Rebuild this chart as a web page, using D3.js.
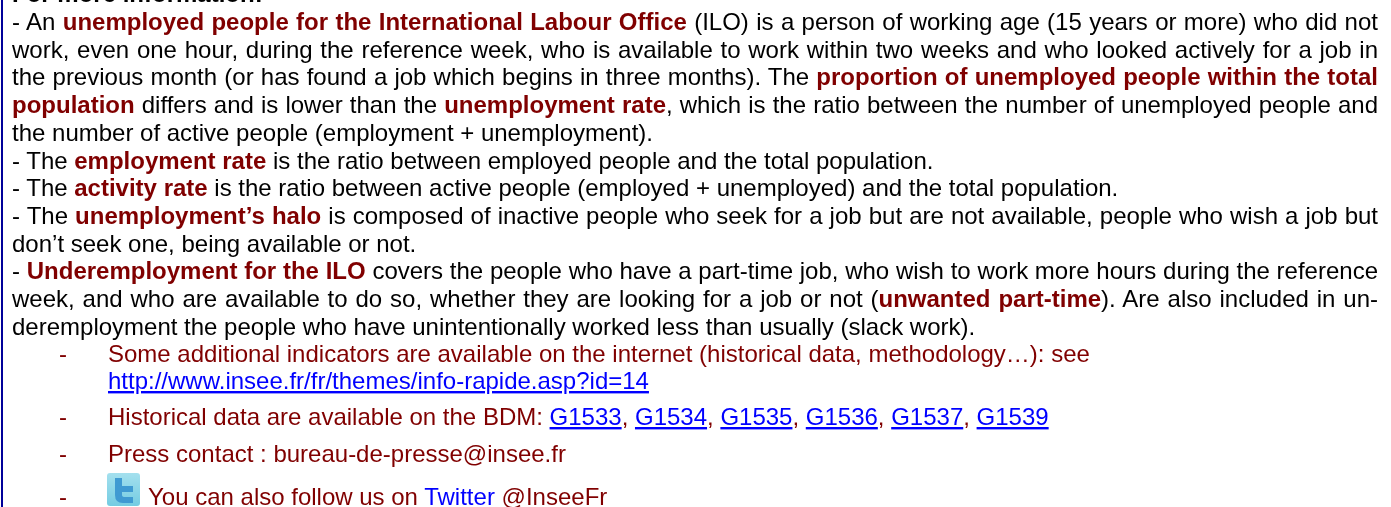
<!DOCTYPE html>
<html>
<head>
<meta charset="utf-8">
<script src="https://cdn.jsdelivr.net/npm/d3@7"></script>
<style>
  html, body { margin: 0; padding: 0; background: #fff; }
  svg { display: block; }
  text { font-family: "Liberation Sans", Arial, sans-serif; font-size: 24px; white-space: pre; }
  .page-text { filter: blur(0.35px); }
</style>
</head>
<body>
<svg id="page"></svg>
<script>
const width = 1391;
const height = 507;

// r = red bold, k = plain black, b = black bold, d = dark red, l = link, t = blue no underline
const bodyLines = [
  { baseline: 2, runs: [['b', 'For more information:']] },
  { baseline: 30, justify: true, runs: [['k', '- An '], ['r', 'unemployed people for the International Labour Office'], ['k', ' (ILO) is a person of working age (15 years or more) who did not']] },
  { baseline: 57.7, justify: true, runs: [['k', 'work, even one hour, during the reference week, who is available to work within two weeks and who looked actively for a job in']] },
  { baseline: 85.4, justify: true, runs: [['k', 'the previous month (or has found a job which begins in three months). The '], ['r', 'proportion of unemployed people within the total']] },
  { baseline: 113, justify: true, runs: [['r', 'population'], ['k', ' differs and is lower than the '], ['r', 'unemployment rate'], ['k', ', which is the ratio between the number of unemployed people and']] },
  { baseline: 141, runs: [['k', 'the number of active people (employment + unemployment).']] },
  { baseline: 168.5, runs: [['k', '- The '], ['r', 'employment rate'], ['k', ' is the ratio between employed people and the total population.']] },
  { baseline: 196, runs: [['k', '- The '], ['r', 'activity rate'], ['k', ' is the ratio between active people (employed + unemployed) and the total population.']] },
  { baseline: 224, justify: true, runs: [['k', '- The '], ['r', 'unemployment’s halo'], ['k', ' is composed of inactive people who seek for a job but are not available, people who wish a job but']] },
  { baseline: 251.6, runs: [['k', 'don’t seek one, being available or not.']] },
  { baseline: 279.3, justify: true, runs: [['k', '- '], ['r', 'Underemployment for the ILO'], ['k', ' covers the people who have a part-time job, who wish to work more hours during the reference']] },
  { baseline: 307, justify: true, runs: [['k', 'week, and who are available to do so, whether they are looking for a job or not ('], ['r', 'unwanted part-time'], ['k', '). Are also included in un-']] },
  { baseline: 334.5, runs: [['k', 'deremployment the people who have unintentionally worked less than usually (slack work).']] }
];

const listLines = [
  { baseline: 362, dash: true, runs: [['d', 'Some additional indicators are available on the internet (historical data, methodology…): see']] },
  { baseline: 389, runs: [['l', 'http://www.insee.fr/fr/themes/info-rapide.asp?id=14']] },
  { baseline: 425, dash: true, runs: [['d', 'Historical data are available on the BDM: '], ['l', 'G1533'], ['d', ', '], ['l', 'G1534'], ['d', ', '], ['l', 'G1535'], ['d', ', '], ['l', 'G1536'], ['d', ', '], ['l', 'G1537'], ['d', ', '], ['l', 'G1539']] },
  { baseline: 461.5, dash: true, runs: [['d', 'Press contact : bureau-de-presse@insee.fr']] },
  { baseline: 505, dash: true, icon: true, runs: [['d', 'You can also follow us on '], ['t', 'Twitter'], ['d', ' @InseeFr']] }
];

const runStyle = {
  k: { fill: '#000', weight: 'normal' },
  b: { fill: '#000', weight: 'bold' },
  r: { fill: '#800000', weight: 'bold' },
  d: { fill: '#800000', weight: 'normal' },
  l: { fill: '#0000ff', weight: 'normal', underline: true },
  t: { fill: '#0000ff', weight: 'normal' }
};

const textLeft = 12;
const textRight = 1378;
const listDash = 59;
const listLeft = 108;
const iconSize = 33;

const svg = d3.select('#page').attr('width', width).attr('height', height);

svg.append('rect').attr('width', width).attr('height', height).attr('fill', '#fff');
svg.append('rect').attr('x', 1).attr('y', 0).attr('width', 2).attr('height', height).attr('fill', '#000099');

function drawLine(parent, line, x) {
  const text = parent.append('text').attr('x', x).attr('y', line.baseline);
  line.runs.forEach(([kind, str]) => {
    const style = runStyle[kind];
    text.append('tspan')
      .attr('fill', style.fill)
      .attr('font-weight', style.weight)
      .attr('text-decoration', style.underline ? 'underline' : null)
      .text(str);
  });
  if (line.justify) {
    const spaces = line.runs.map(r => r[1]).join('').split(' ').length - 1;
    const extra = (textRight - x - text.node().getComputedTextLength()) / spaces;
    text.attr('word-spacing', extra);
  }
  return text;
}

const g = svg.append('g').attr('class', 'page-text');
bodyLines.forEach(line => drawLine(g, line, textLeft));

listLines.forEach(line => {
  let x = listLeft;
  if (line.dash) {
    g.append('text').attr('x', listDash).attr('y', line.baseline).attr('fill', '#800000').text('-');
  }
  if (line.icon) {
    const top = line.baseline - 32;
    const icon = g.append('g').attr('transform', `translate(${listLeft - 1},${top})`);
    const grad = svg.append('defs').append('linearGradient')
      .attr('id', 'tw').attr('x1', 0).attr('y1', 0).attr('x2', 0).attr('y2', 1);
    grad.append('stop').attr('offset', 0).attr('stop-color', '#a4e0ee');
    grad.append('stop').attr('offset', 1).attr('stop-color', '#74cce2');
    icon.append('rect').attr('width', iconSize).attr('height', iconSize).attr('rx', 3).attr('fill', 'url(#tw)');
    icon.append('path')
      .attr('d', 'M8 5h7v8h11v6h-11v3q0 2 3 2h8v6h-10q-8 0-8-8z')
      .attr('fill', '#3f9ad2');
    x = listLeft + iconSize + 7;
  }
  drawLine(g, line, x);
});
</script>
</body>
</html>
